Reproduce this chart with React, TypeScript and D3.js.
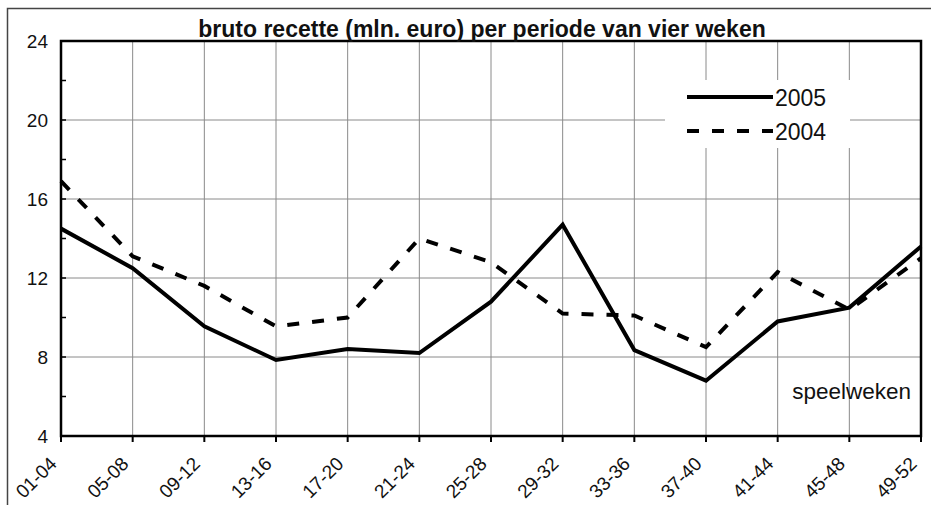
import React, { useEffect, useRef } from "react";
import * as d3 from "d3";

const periods = [
  "01-04", "05-08", "09-12", "13-16", "17-20", "21-24", "25-28",
  "29-32", "33-36", "37-40", "41-44", "45-48", "49-52",
];
const values2005 = [14.5, 12.5, 9.55, 7.85, 8.4, 8.2, 10.8, 14.7, 8.35, 6.8, 9.8, 10.5, 13.6];
const values2004 = [16.9, 13.1, 11.6, 9.55, 10.0, 14.0, 12.8, 10.2, 10.1, 8.5, 12.3, 10.4, 13.0];
const yTicks = [4, 8, 12, 16, 20, 24];
const yMinorTicks = [6, 10, 14, 18, 22];

const title = "bruto recette (mln. euro) per periode van vier weken";
const xLabel = "speelweken";
const series = [
  { name: "2005", values: values2005, dash: null },
  { name: "2004", values: values2004, dash: "12 13" },
];

const App = () => {
  const svgRef = useRef<SVGSVGElement>(null);

  useEffect(() => {
    const width = 931;
    const height = 505;
    const margin = { top: 41, right: 10, bottom: 69, left: 61 };
    const font = "Liberation Sans, Arial, sans-serif";

    const svg = d3.select(svgRef.current);
    svg.selectAll("*").remove();
    svg.attr("width", width).attr("height", height);

    svg.append("rect").attr("width", width).attr("height", height).attr("fill", "white");

    // outer frame (runs off the right and bottom)
    svg
      .append("rect")
      .attr("x", 7.5)
      .attr("y", 8.5)
      .attr("width", width + 20)
      .attr("height", height + 20)
      .attr("fill", "none")
      .attr("stroke", "#444")
      .attr("stroke-width", 1.5);

    const x = d3
      .scalePoint()
      .domain(periods)
      .range([margin.left, width - margin.right]);

    const y = d3
      .scaleLinear()
      .domain([4, 24])
      .range([height - margin.bottom, margin.top]);

    // grid
    const grid = svg.append("g").attr("stroke", "#8a8a8a").attr("stroke-width", 1);
    periods.forEach((p) => {
      grid
        .append("line")
        .attr("x1", x(p))
        .attr("x2", x(p))
        .attr("y1", y(24))
        .attr("y2", y(4));
    });
    yTicks.forEach((t) => {
      grid
        .append("line")
        .attr("x1", x(periods[0]))
        .attr("x2", x(periods[periods.length - 1]))
        .attr("y1", y(t))
        .attr("y2", y(t));
    });

    // legend background covers grid
    svg
      .append("rect")
      .attr("x", 665)
      .attr("y", 80)
      .attr("width", 185)
      .attr("height", 68)
      .attr("fill", "white");

    // y axis ticks (inside) and labels
    const yAxis = svg.append("g");
    [...yTicks, ...yMinorTicks].forEach((t) => {
      yAxis
        .append("line")
        .attr("x1", margin.left)
        .attr("x2", margin.left + 5)
        .attr("y1", y(t))
        .attr("y2", y(t))
        .attr("stroke", "black")
        .attr("stroke-width", 1.5);
    });
    yTicks.forEach((t) => {
      yAxis
        .append("text")
        .attr("x", 48)
        .attr("y", y(t))
        .attr("dy", "0.35em")
        .attr("text-anchor", "end")
        .attr("font-family", font)
        .attr("font-size", 19)
        .attr("fill", "#111")
        .text(t);
    });

    // x axis ticks (outside) and rotated labels
    const xAxis = svg.append("g");
    periods.forEach((p) => {
      xAxis
        .append("line")
        .attr("x1", x(p))
        .attr("x2", x(p))
        .attr("y1", y(4))
        .attr("y2", y(4) + 6)
        .attr("stroke", "black")
        .attr("stroke-width", 2);
      xAxis
        .append("text")
        .attr("transform", `translate(${x(p)! - 3}, ${y(4) + 29}) rotate(-45)`)
        .attr("text-anchor", "end")
        .attr("font-family", font)
        .attr("font-size", 19)
        .attr("fill", "#111")
        .text(p);
    });

    // lines
    const line = d3
      .line<number>()
      .x((d, i) => x(periods[i])!)
      .y((d) => y(d));

    series.forEach((s) => {
      svg
        .append("path")
        .datum(s.values)
        .attr("fill", "none")
        .attr("stroke", "black")
        .attr("stroke-width", 4)
        .attr("stroke-linejoin", "miter")
        .attr("stroke-dasharray", s.dash)
        .attr("d", line);
    });

    // plot frame
    svg
      .append("rect")
      .attr("x", margin.left)
      .attr("y", margin.top)
      .attr("width", width - margin.right - margin.left)
      .attr("height", height - margin.bottom - margin.top)
      .attr("fill", "none")
      .attr("stroke", "black")
      .attr("stroke-width", 2.5);

    // legend
    series.forEach((s, i) => {
      const ly = 97 + i * 34;
      svg
        .append("line")
        .attr("x1", 687)
        .attr("x2", 773)
        .attr("y1", ly)
        .attr("y2", ly)
        .attr("stroke", "black")
        .attr("stroke-width", 4)
        .attr("stroke-dasharray", s.dash);
      svg
        .append("text")
        .attr("x", 775)
        .attr("y", ly + 1)
        .attr("dy", "0.35em")
        .attr("font-family", font)
        .attr("font-size", 23)
        .attr("fill", "#111")
        .text(s.name);
    });

    // title
    svg
      .append("text")
      .attr("x", 482)
      .attr("y", 37)
      .attr("text-anchor", "middle")
      .attr("font-family", font)
      .attr("font-size", 23)
      .attr("font-weight", "bold")
      .attr("fill", "#111")
      .text(title);

    svg
      .append("text")
      .attr("x", 911)
      .attr("y", 399)
      .attr("text-anchor", "end")
      .attr("font-family", font)
      .attr("font-size", 22.5)
      .attr("fill", "#111")
      .text(xLabel);
  }, []);

  return (
    <svg
      ref={svgRef}
      style={{ position: "absolute", left: 0, top: 0, display: "block" }}
    ></svg>
  );
};

export default App;
